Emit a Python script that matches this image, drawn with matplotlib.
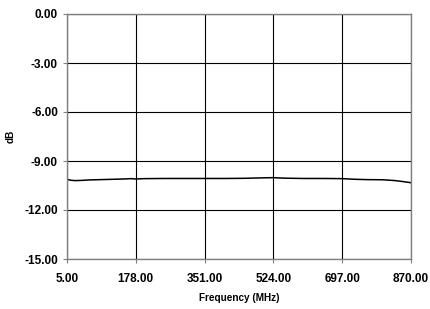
import matplotlib
matplotlib.use("Agg")
import matplotlib.pyplot as plt

freq_mhz = [5, 15, 25, 40, 60, 90, 120, 150, 165, 178, 200, 250, 300, 351, 400, 450, 500, 524, 550, 600, 650, 697, 730, 760, 800, 830, 850, 870]
gain_db = [-10.12, -10.18, -10.20, -10.19, -10.16, -10.14, -10.12, -10.10, -10.08, -10.10, -10.08, -10.07, -10.07, -10.07, -10.07, -10.06, -10.03, -10.02, -10.05, -10.07, -10.07, -10.08, -10.12, -10.14, -10.15, -10.20, -10.26, -10.33]

x_ticks = [5.00, 178.00, 351.00, 524.00, 697.00, 870.00]
y_ticks = [0.00, -3.00, -6.00, -9.00, -12.00, -15.00]

plt.rcParams['font.family'] = ['Liberation Sans', 'DejaVu Sans']

fig = plt.figure(figsize=(4.31, 3.09), dpi=100)
ax = fig.add_axes([67/431, 1 - 259/309, (411-67)/431, (259-14)/309])

ax.plot(freq_mhz, gain_db, color='black', lw=1.1)
ax.set_xlim(5, 870)
ax.set_ylim(-15, 0)
ax.set_xticks(x_ticks)
ax.set_yticks(y_ticks)
ax.set_xticklabels([f"{v:.2f}" for v in x_ticks], fontsize=8.5, fontweight='bold')
ax.set_yticklabels([f"{v:.2f}" for v in y_ticks], fontsize=8.5, fontweight='bold')
ax.grid(True, color='black', lw=0.8)
ax.set_axisbelow(True)
for s in ax.spines.values():
    s.set_color('#808080')
    s.set_linewidth(1.0)
ax.tick_params(axis='both', length=3, color='#808080', direction='out')
ax.tick_params(axis='x', pad=7)
ax.tick_params(axis='y', pad=3.5)
ax.set_xlabel('Frequency (MHz)', fontsize=7.2, fontweight='bold', labelpad=6)
ax.set_ylabel('dB', fontsize=7.2, fontweight='bold', labelpad=6)

fig.savefig('out.png', dpi=100)
